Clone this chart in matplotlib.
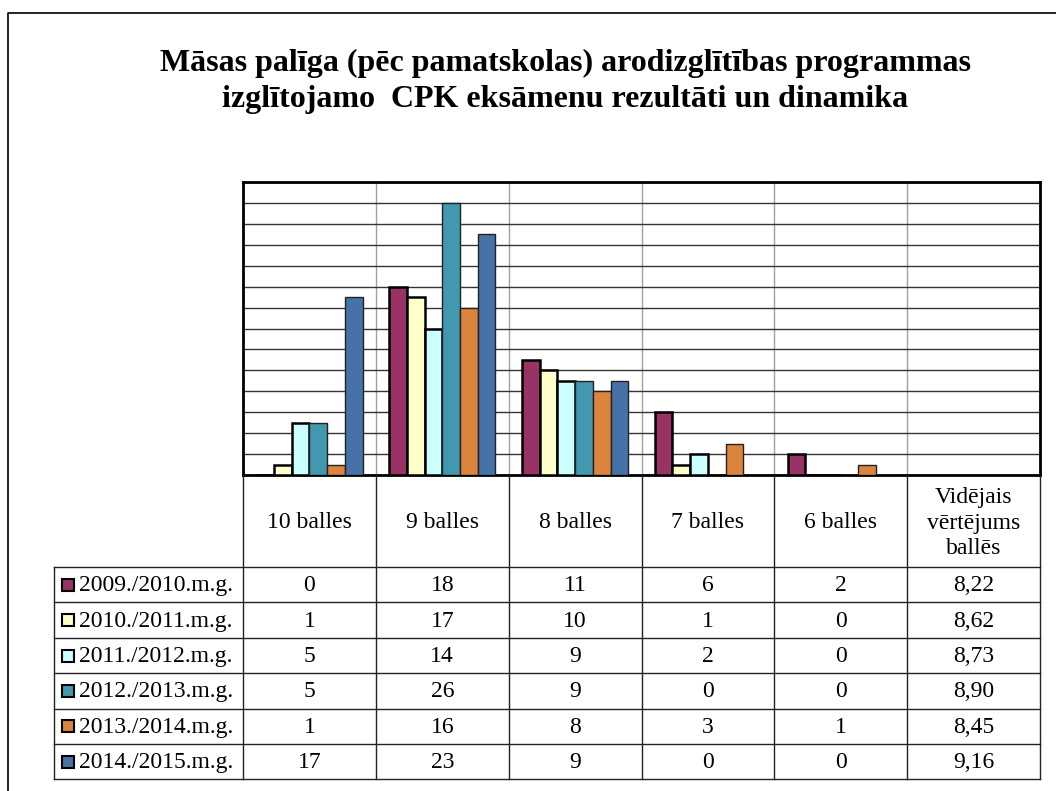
import matplotlib
matplotlib.use("Agg")
import matplotlib.pyplot as plt
import numpy as np

# ---- data ----
categories = ["10 balles", "9 balles", "8 balles", "7 balles", "6 balles",
              "Vidējais\nvērtējums\nballēs"]
years = ["2009./2010.m.g.", "2010./2011.m.g.", "2011./2012.m.g.",
         "2012./2013.m.g.", "2013./2014.m.g.", "2014./2015.m.g."]
v_2009 = [0, 18, 11, 6, 2]
v_2010 = [1, 17, 10, 1, 0]
v_2011 = [5, 14, 9, 2, 0]
v_2012 = [5, 26, 9, 0, 0]
v_2013 = [1, 16, 8, 3, 1]
v_2014 = [17, 23, 9, 0, 0]
averages = ["8,22", "8,62", "8,73", "8,90", "8,45", "9,16"]
title_lines = ["Māsas palīga (pēc pamatskolas) arodizglītības programmas",
               "izglītojamo  CPK eksāmenu rezultāti un dinamika"]

series = [v_2009, v_2010, v_2011, v_2012, v_2013, v_2014]
colors = ["#993366", "#FFFFCC", "#CCFFFF", "#4198AF", "#DB843D", "#4572A7"]
edge_w = [1.8, 1.8, 1.8, 1.0, 1.0, 1.0]
edge_c = ["black", "black", "black", "#222222", "#222222", "#222222"]

W, H = 1056, 791
fig = plt.figure(figsize=(W / 100, H / 100), dpi=100)
FONT = "Liberation Serif"
TS = 17

# ---- plot area (pixel geometry) ----
px_l, px_r, px_t, px_b = 243, 1040, 182, 475
ax = fig.add_axes([px_l / W, 1 - px_b / H, (px_r - px_l) / W, (px_b - px_t) / H])
ncat = len(categories)
ax.set_xlim(0, ncat)
ax.set_ylim(0, 28)
ax.set_yticks(np.arange(0, 29, 2))
ax.set_xticks([])
ax.tick_params(left=False, labelleft=False)
ax.grid(axis="y", color="#333333", linewidth=1.0, zorder=0)
for c in range(1, ncat):
    ax.axvline(c, color="#a0a0a0", linewidth=1.0, zorder=0)
for s in ax.spines.values():
    s.set_linewidth(2.0)
    s.set_color("black")

group = 0.8
bw = group / len(series)
xcat = np.arange(len(v_2009))
for i, vals in enumerate(series):
    x = xcat + (1 - group) / 2 + (i + 0.5) * bw
    ax.bar(x, vals, width=bw, color=colors[i], edgecolor=edge_c[i],
           linewidth=edge_w[i], zorder=3)

# ---- overlay in pixel coords for table, title, frame ----
ov = fig.add_axes([0, 0, 1, 1])
ov.set_xlim(0, W)
ov.set_ylim(H, 0)
ov.axis("off")

# outer frame
ov.plot([8, 8, W], [H, 13, 13], color="black", linewidth=1.2)

# title
ov.text(565, 71, title_lines[0], ha="center", va="baseline", fontsize=23,
        fontweight="bold", family=FONT)
ov.text(565, 107, title_lines[1], ha="center", va="baseline", fontsize=23,
        fontweight="bold", family=FONT)

# table geometry
colw = (px_r - px_l) / ncat
xs = px_l + np.arange(ncat + 1) * colw
head_b = 567
rowh = 35.4
ys = head_b + np.arange(len(years) + 1) * rowh
lab_l = 54
lc = "#222222"

for x in xs:
    ov.plot([x, x], [px_b, ys[-1]], color=lc, linewidth=1.0)
ov.plot([lab_l, lab_l], [head_b, ys[-1]], color=lc, linewidth=1.0)
for y in ys:
    ov.plot([lab_l, px_r], [y, y], color=lc, linewidth=1.0)

# header
for c, name in enumerate(categories):
    ov.text((xs[c] + xs[c + 1]) / 2, (px_b + head_b) / 2 + 2, name, ha="center",
            va="center", fontsize=TS, family=FONT, linespacing=1.3)

# rows
for r, yr in enumerate(years):
    yc = (ys[r] + ys[r + 1]) / 2
    ov.add_patch(plt.Rectangle((62, yc - 6), 12, 12, facecolor=colors[r],
                               edgecolor="black", linewidth=1.5))
    ov.text(79, yc + 1, yr, ha="left", va="center", fontsize=TS, family=FONT)
    for c, vals in enumerate(series[r]):
        ov.text((xs[c] + xs[c + 1]) / 2, yc + 1, str(vals), ha="center",
                va="center", fontsize=TS, family=FONT)
    ov.text((xs[5] + xs[6]) / 2, yc + 1, averages[r], ha="center",
            va="center", fontsize=TS, family=FONT)

fig.savefig("out.png", dpi=100)
